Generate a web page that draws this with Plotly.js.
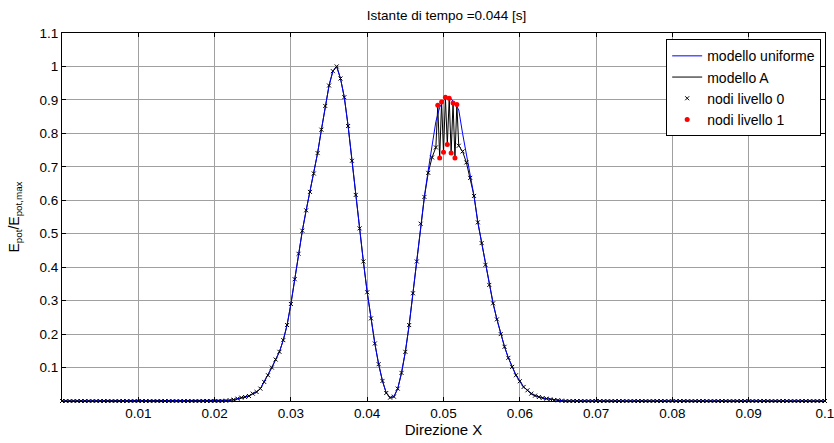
<!DOCTYPE html>
<html>
<head>
<meta charset="utf-8">
<script src="https://cdn.plot.ly/plotly-3.0.1.min.js"></script>
<style>html,body{margin:0;padding:0;background:#fff;}#chart{width:834px;height:443px;}</style>
</head>
<body>
<div id="chart"></div>
<script>
// Level-0 nodes (uniform grid of the chart)
const xLevel0 = [
0,0.0005,0.001,0.0015,0.002,0.0025,0.003,0.0035,0.004,0.0045,
0.005,0.0055,0.006,0.0065,0.007,0.0075,0.008,0.0085,0.009,0.0095,
0.01,0.0105,0.011,0.0115,0.012,0.0125,0.013,0.0135,0.014,0.0145,
0.015,0.0155,0.016,0.0165,0.017,0.0175,0.018,0.0185,0.019,0.0195,
0.02,0.0205,0.021,0.0215,0.022,0.0225,0.023,0.0235,0.024,0.0245,
0.025,0.0255,0.026,0.0265,0.027,0.0275,0.028,0.0285,0.029,0.0295,
0.03,0.0305,0.031,0.0315,0.032,0.0325,0.033,0.0335,0.034,0.0345,
0.035,0.0355,0.036,0.0365,0.037,0.0375,0.038,0.0385,0.039,0.0395,
0.04,0.0405,0.041,0.0415,0.042,0.0425,0.043,0.0435,0.044,0.0445,
0.045,0.0455,0.046,0.0465,0.047,0.0475,0.048,0.0485,0.049,0.0495,
0.05,0.0505,0.051,0.0515,0.052,0.0525,0.053,0.0535,0.054,0.0545,
0.055,0.0555,0.056,0.0565,0.057,0.0575,0.058,0.0585,0.059,0.0595,
0.06,0.0605,0.061,0.0615,0.062,0.0625,0.063,0.0635,0.064,0.0645,
0.065,0.0655,0.066,0.0665,0.067,0.0675,0.068,0.0685,0.069,0.0695,
0.07,0.0705,0.071,0.0715,0.072,0.0725,0.073,0.0735,0.074,0.0745,
0.075,0.0755,0.076,0.0765,0.077,0.0775,0.078,0.0785,0.079,0.0795,
0.08,0.0805,0.081,0.0815,0.082,0.0825,0.083,0.0835,0.084,0.0845,
0.085,0.0855,0.086,0.0865,0.087,0.0875,0.088,0.0885,0.089,0.0895,
0.09,0.0905,0.091,0.0915,0.092,0.0925,0.093,0.0935,0.094,0.0945,
0.095,0.0955,0.096,0.0965,0.097,0.0975,0.098,0.0985,0.099,0.0995,
0.1
];

// Modello A values at level-0 nodes
const yModelA = [
0,0,0,0,0,0,0,0,0,0,
0,0,0,0,0,0,0,0,0,0,
0,0,0,0,0,0,0,0,0,0,
0,0,0,0,0,0,0,0,0,0,
0,0,0,0.001,0.002,0.004,0.007,0.010,0.012,0.015,
0.022,0.027,0.037,0.057,0.077,0.100,0.124,0.147,0.182,0.227,
0.290,0.364,0.440,0.509,0.570,0.625,0.680,0.741,0.811,0.882,
0.943,0.986,1.000,0.964,0.908,0.822,0.718,0.616,0.516,0.417,
0.325,0.247,0.172,0.110,0.060,0.024,0.010,0.013,0.037,0.084,
0.147,0.227,0.322,0.417,0.530,0.610,0.682,0.728,0.758,0.7265,
0.7435,0.7665,0.7415,0.7265,0.763,0.746,0.713,0.667,0.613,0.534,
0.472,0.407,0.347,0.292,0.244,0.200,0.162,0.129,0.102,0.077,
0.059,0.042,0.032,0.022,0.016,0.012,0.009,0.007,0.005,0.003,
0.002,0.001,0,0,0,0,0,0,0,0,
0,0,0,0,0,0,0,0,0,0,
0,0,0,0,0,0,0,0,0,0,
0,0,0,0,0,0,0,0,0,0,
0,0,0,0,0,0,0,0,0,0,
0,0,0,0,0,0,0,0,0,0,
0,0,0,0,0,0,0,0,0,0,
0
];

// Modello uniforme values at level-0 nodes
const yUniform = [
0,0,0,0,0,0,0,0,0,0,
0,0,0,0,0,0,0,0,0,0,
0,0,0,0,0,0,0,0,0,0,
0,0,0,0,0,0,0,0,0,0,
0,0,0,0.001,0.002,0.004,0.007,0.010,0.012,0.015,
0.022,0.027,0.037,0.057,0.077,0.100,0.124,0.147,0.182,0.227,
0.290,0.364,0.440,0.509,0.570,0.625,0.680,0.741,0.811,0.882,
0.943,0.986,1.000,0.964,0.908,0.822,0.718,0.616,0.516,0.417,
0.325,0.247,0.172,0.110,0.060,0.024,0.010,0.013,0.037,0.084,
0.147,0.227,0.322,0.417,0.530,0.612,0.690,0.765,0.835,0.878,
0.898,0.908,0.903,0.890,0.870,0.800,0.735,0.667,0.613,0.534,
0.472,0.407,0.347,0.292,0.244,0.200,0.162,0.129,0.102,0.077,
0.059,0.042,0.032,0.022,0.016,0.012,0.009,0.007,0.005,0.003,
0.002,0.001,0,0,0,0,0,0,0,0,
0,0,0,0,0,0,0,0,0,0,
0,0,0,0,0,0,0,0,0,0,
0,0,0,0,0,0,0,0,0,0,
0,0,0,0,0,0,0,0,0,0,
0,0,0,0,0,0,0,0,0,0,
0,0,0,0,0,0,0,0,0,0,
0
];

// Level-1 (refined) nodes
const xLevel1 = [0.04925,0.0495,0.04975,0.05,0.05025,0.0505,0.05075,0.051,0.05125,0.0515,0.05175];
const yLevel1 = [0.884,0.7265,0.894,0.7435,0.908,0.7665,0.905,0.7415,0.891,0.7265,0.886];

const xTicks = [0.01,0.02,0.03,0.04,0.05,0.06,0.07,0.08,0.09,0.1];
const xTickText = ['0.01','0.02','0.03','0.04','0.05','0.06','0.07','0.08','0.09','0.1'];
const yTicks = [0.1,0.2,0.3,0.4,0.5,0.6,0.7,0.8,0.9,1,1.1];
const yTickText = ['0.1','0.2','0.3','0.4','0.5','0.6','0.7','0.8','0.9','1','1.1'];

const titleText = 'Istante di tempo =0.044 [s]';
const xTitle = 'Direzione X';
const yTitle = 'E<sub>pot</sub>/E<sub>pot,max</sub>';

// Build model A (level-0 outside refined zone + level-1 nodes)
const lo = Math.min(...xLevel1), hi = Math.max(...xLevel1);
const x0Out = [], y0Out = [];
xLevel0.forEach((x, i) => { if (x < lo - 1e-9 || x > hi + 1e-9) { x0Out.push(x); y0Out.push(yModelA[i]); } });
const merged = x0Out.map((x, i) => [x, y0Out[i]]).concat(xLevel1.map((x, i) => [x, yLevel1[i]])).sort((a, b) => a[0] - b[0]);
const xA = merged.map(p => p[0]);
const yA = merged.map(p => p[1]);

const font = "'Liberation Sans', Arial, sans-serif";

const traces = [
  { x: xA, y: yA, type: 'scatter', mode: 'lines', name: 'modello A',
    line: { color: '#000000', width: 1 }, legendrank: 2, cliponaxis: false },
  { x: xLevel0, y: yUniform, type: 'scatter', mode: 'lines', name: 'modello uniforme',
    line: { color: '#0000ff', width: 1 }, legendrank: 1, cliponaxis: false },
  { x: x0Out, y: y0Out, type: 'scatter', mode: 'markers', name: 'nodi livello 0',
    marker: { symbol: 'x-thin-open', size: 4, color: '#000000', line: { color: '#000000', width: 1 } },
    legendrank: 3, cliponaxis: false },
  { x: xLevel1, y: yLevel1, type: 'scatter', mode: 'markers', name: 'nodi livello 1',
    marker: { symbol: 'circle', size: 5, color: '#ff0000' }, legendrank: 4, cliponaxis: false }
];

const layout = {
  width: 834, height: 443,
  margin: { l: 62, r: 9, t: 33, b: 42 },
  paper_bgcolor: '#ffffff', plot_bgcolor: '#ffffff',
  font: { family: font, size: 13.5, color: '#000000' },
  title: { text: titleText, x: 0.5355, xanchor: 'center', y: 0.965, yanchor: 'middle', font: { family: font, size: 13.5, color: '#000' } },
  showlegend: true,
  legend: { x: 0.995, xanchor: 'right', y: 0.983, yanchor: 'top', bgcolor: '#ffffff',
            bordercolor: '#000000', borderwidth: 1, font: { family: font, size: 14 },
            traceorder: 'normal', tracegroupgap: 0, itemwidth: 30 },
  xaxis: {
    range: [0, 0.1000001], tickmode: 'array', tickvals: xTicks, ticktext: xTickText,
    ticks: 'inside', ticklen: 4, tickcolor: '#000', showline: true, linecolor: '#000', linewidth: 1,
    mirror: 'ticks', showgrid: true, gridcolor: '#a0a0a0', gridwidth: 1, zeroline: false,
    ticklabeloverflow: 'allow',
    tickfont: { family: font, size: 13.5 },
    title: { text: xTitle, font: { family: font, size: 15 }, standoff: 3 }
  },
  yaxis: {
    range: [0, 1.1], tickmode: 'array', tickvals: yTicks, ticktext: yTickText,
    ticks: 'inside', ticklen: 4, tickcolor: '#000', showline: true, linecolor: '#000', linewidth: 1,
    mirror: 'ticks', showgrid: true, gridcolor: '#a0a0a0', gridwidth: 1, zeroline: false,
    tickfont: { family: font, size: 13.5 },
    title: { text: yTitle, font: { family: font, size: 14 }, standoff: 16 }
  }
};

Plotly.newPlot('chart', traces, layout, { displayModeBar: false, staticPlot: true });
</script>
</body>
</html>
